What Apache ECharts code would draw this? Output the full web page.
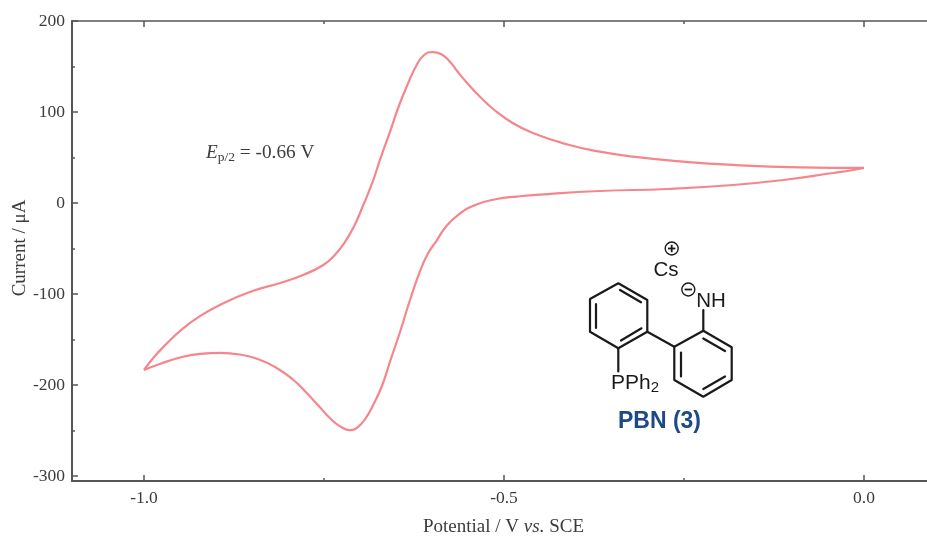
<!DOCTYPE html>
<html>
<head>
<meta charset="utf-8">
<style>html,body{margin:0;padding:0;background:#fff}#c{width:927px;height:537px}</style>
<script src="https://cdn.jsdelivr.net/npm/echarts@6/dist/echarts.min.js"></script>
</head>
<body>
<div id="c"></div>
<script>
const xMajorTicks = [-1.0, -0.5, 0.0];
const xMinorTicks = [-0.75, -0.25];
const yMajorTicks = [200, 100, 0, -100, -200, -300];
const yMinorTicks = [150, 50, -50, -150, -250];

const cathodicScan = [
  [0.0,38.5],[-0.089,39.2],[-0.182,41.8],[-0.251,45.4],[-0.321,50.9],[-0.367,56.4],[-0.413,64.5],
  [-0.46,76.9],[-0.488,87.9],[-0.515,103.3],[-0.533,116.5],[-0.55,130.8],[-0.564,144],[-0.576,156],[-0.5875,163.7],
  [-0.599,165.9],[-0.611,162.6],[-0.622,150.5],[-0.633,131.9],[-0.646,106.6],[-0.658,79.1],[-0.671,50.5],
  [-0.683,22],[-0.696,-3.3],[-0.708,-25.3],[-0.721,-42.9],[-0.735,-57.1],[-0.751,-68.1],[-0.779,-79.1],
  [-0.811,-87.9],[-0.853,-97.8],[-0.892,-111],[-0.922,-124.2],[-0.947,-138.5],[-0.969,-155],
  [-0.986,-169.2],[-1.0,-183.5]
];
const anodicScan = [
  [-1.0,-183.5],[-0.978,-176.9],[-0.95,-169.8],[-0.922,-165.9],[-0.894,-164.8],[-0.867,-166.5],[-0.842,-171.4],
  [-0.818,-180.2],[-0.794,-193.4],[-0.774,-208.8],[-0.756,-224.2],[-0.739,-238.5],[-0.725,-246.7],[-0.714,-249.5],
  [-0.703,-246.2],[-0.692,-236.3],[-0.681,-220.9],[-0.669,-200],[-0.658,-173.6],[-0.644,-140.7],[-0.631,-107.7],
  [-0.617,-75.8],[-0.606,-56],[-0.594,-41.8],[-0.581,-26.4],[-0.564,-13.2],[-0.54,-2.2],[-0.51,4.4],[-0.482,7.1],
  [-0.45,9.3],[-0.367,13.2],[-0.274,15.4],[-0.182,19.8],[-0.112,25.3],[-0.043,33],[-0.015,36.3],[0.0,38.5]
];

const SERIF = '"Liberation Serif","Times New Roman",serif';
const SANS = '"Liberation Sans",Arial,sans-serif';
const AXIS = '#555';
const TEXT = '#3c3c3c';
const LINE = '#F5868C';
const BOND = '#1a1a1a';
const NAVY = '#1D4A87';

const xRange = {min: -1.1, max: 0.0875};
const yRange = {min: -305.5, max: 200};

function xAxisDef(pos, ticks, len, showLine, lineW, labels) {
  return Object.assign({
    type: 'value', position: pos, splitLine: {show: false},
    axisLine: {show: showLine, onZero: false, lineStyle: {color: AXIS, width: lineW}},
    axisTick: {show: true, inside: true, length: len, customValues: ticks, lineStyle: {color: AXIS, width: 1.5}},
    axisLabel: labels ? {
      show: true, customValues: ticks, margin: 8, fontFamily: SERIF, fontSize: 17.5, color: TEXT,
      formatter: v => v.toFixed(1)
    } : {show: false}
  }, xRange);
}
function yAxisDef(ticks, len, showLine, labels) {
  return Object.assign({
    type: 'value', position: 'left', splitLine: {show: false},
    axisLine: {show: showLine, onZero: false, lineStyle: {color: AXIS, width: 2}},
    axisTick: {show: true, inside: true, length: len, customValues: ticks, lineStyle: {color: AXIS, width: 1.5}},
    axisLabel: labels ? {
      show: true, customValues: ticks, margin: 7, fontFamily: SERIF, fontSize: 17.5, color: TEXT
    } : {show: false}
  }, yRange);
}

function bond(pts) {
  return {type: 'polyline', silent: true, shape: {points: pts},
    style: {stroke: BOND, lineWidth: 2.2, fill: null, lineJoin: 'round', lineCap: 'round'}};
}
function atom(x, y, text, size, extra) {
  return {type: 'text', silent: true, x: x, y: y,
    style: Object.assign({text: text, fontFamily: SANS, fontSize: size, fill: BOND, align: 'center', verticalAlign: 'middle'}, extra || {})};
}
function chargeCircle(x, y) {
  return {type: 'circle', silent: true, shape: {cx: x, cy: y, r: 6.5}, style: {stroke: BOND, lineWidth: 1.4, fill: '#fff'}};
}
function chargeBar(x1, y1, x2, y2) {
  return {type: 'line', silent: true, shape: {x1, y1, x2, y2}, style: {stroke: BOND, lineWidth: 1.8}};
}

const structure = [
  bond([[618.3,283.3],[647.3,300],[647.3,331.7],[618.3,348.3],[590,331.7],[590,299],[618.3,283.3]]),
  bond([[620,290],[641,302.3]]), bond([[641.5,328.3],[621,340.5]]), bond([[596,328],[596,304]]),
  bond([[674.3,346.7],[703.3,330.7],[731.7,347.3],[731.7,380],[703.3,396.7],[674.3,380],[674.3,346.7]]),
  bond([[703.3,338.5],[725,351]]), bond([[725,376.5],[703.3,389]]), bond([[681,376.5],[681,352.5]]),
  bond([[647.3,331.7],[674.3,346.7]]),
  bond([[703.3,330.7],[703.3,310]]),
  bond([[618.3,348.3],[618.3,371.5]]),
  atom(666, 270, 'Cs', 20.5),
  atom(711, 301, 'NH', 20.5),
  {type: 'text', silent: true, x: 611, y: 383, style: {
    text: '{a|PPh}{b|2}', fill: BOND, align: 'left', verticalAlign: 'middle',
    rich: {a: {fontFamily: SANS, fontSize: 21, fill: BOND}, b: {fontFamily: SANS, fontSize: 15, fill: BOND, padding: [9,0,0,0]}}
  }},
  chargeCircle(671.7, 248.5), chargeBar(668, 248.5, 675.4, 248.5), chargeBar(671.7, 244.8, 671.7, 252.2),
  chargeCircle(688.3, 289.5), chargeBar(684.6, 289.5, 692, 289.5),
  atom(659.5, 422, 'PBN (3)', 23, {fontWeight: 'bold', fill: NAVY})
];

const annotations = [
  {type: 'text', silent: true, x: 206, y: 153, style: {
    text: '{e|E}{s|p/2}{t| = -0.66 V}', align: 'left', verticalAlign: 'middle',
    rich: {
      e: {fontFamily: SERIF, fontStyle: 'italic', fontSize: 19.3, fill: TEXT},
      s: {fontFamily: SERIF, fontSize: 13.5, fill: TEXT, padding: [9,0,0,0]},
      t: {fontFamily: SERIF, fontSize: 19.3, fill: TEXT}
    }
  }},
  {type: 'text', silent: true, x: 503.5, y: 527, style: {
    text: '{r|Potential / V }{i|vs.}{r| SCE}', align: 'center', verticalAlign: 'middle',
    rich: {
      r: {fontFamily: SERIF, fontSize: 19, fill: TEXT},
      i: {fontFamily: SERIF, fontStyle: 'italic', fontSize: 19, fill: TEXT}
    }
  }},
  {type: 'text', silent: true, x: 20, y: 248, rotation: Math.PI / 2, style: {
    text: 'Current / μA', align: 'center', verticalAlign: 'middle',
    fontFamily: SERIF, fontSize: 19, fill: TEXT
  }}
];

const chart = echarts.init(document.getElementById('c'), null, {renderer: 'canvas'});
chart.setOption({
  animation: false,
  backgroundColor: '#fff',
  grid: {left: 72, right: 0, top: 21, bottom: 56, containLabel: false},
  xAxis: [
    xAxisDef('bottom', xMajorTicks, 6, true, 2, true),
    xAxisDef('bottom', xMinorTicks, 3, false, 2, false),
    xAxisDef('top', xMajorTicks, 6, true, 1.5, false),
    xAxisDef('top', xMinorTicks, 3, false, 1.5, false)
  ],
  yAxis: [
    yAxisDef(yMajorTicks, 6, true, true),
    yAxisDef(yMinorTicks, 3, false, false)
  ],
  series: [
    {type: 'line', data: cathodicScan, xAxisIndex: 0, yAxisIndex: 0, showSymbol: false, smooth: 0.5,
     lineStyle: {color: LINE, width: 2.2}, clip: false},
    {type: 'line', data: anodicScan, xAxisIndex: 0, yAxisIndex: 0, showSymbol: false, smooth: 0.5,
     lineStyle: {color: LINE, width: 2.2}, clip: false}
  ],
  graphic: structure.concat(annotations)
});
</script>
</body>
</html>
